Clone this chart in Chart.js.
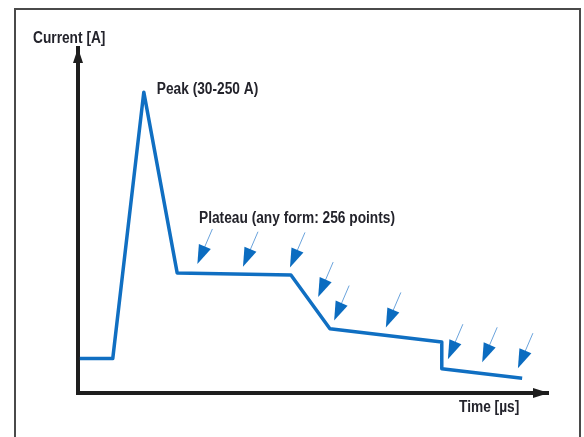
<!DOCTYPE html>
<html>
<head>
<meta charset="utf-8">
<script src="https://cdn.jsdelivr.net/npm/chart.js@4/dist/chart.umd.min.js"></script>
<style>
  html, body { margin: 0; padding: 0; background: #fff; }
  #wrap { position: relative; width: 584px; height: 437px; }
</style>
</head>
<body>
<div id="wrap"><canvas id="pulse" width="584" height="437"></canvas></div>
<script>
// pulse shape (time and current in % of the drawn axes)
const timeValues = [0.4, 7.4, 14.0, 21.1, 45.3, 53.6, 77.4, 77.4, 94.5];
const currentValues = [10, 10, 87.2, 34.8, 34.2, 18.6, 14.8, 7.0, 4.3];

// where the little arrows point on the plateau
const arrowTimes = [25.4, 35.1, 45.1, 51.1, 54.5, 65.5, 78.7, 86.0, 93.6];
const arrowCurrents = [37.4, 36.6, 36.4, 27.8, 21.0, 19.0, 9.8, 8.9, 7.2];

const axisTitles = ['Current [A]', 'Time [\u00b5s]'];
const peakLabel = 'Peak (30-250 A)';
const plateauLabel = 'Plateau (any form: 256 points)';

const blue = '#106fc2';
const ink = '#23232b';
const labelFont = 'bold 16px "Liberation Sans", Arial, sans-serif';

// condensed look: squeeze the text so the plateau label is ~196px wide
function drawLabel(ctx, text, left, base, squeeze) {
    ctx.save();
    ctx.translate(left, base);
    ctx.scale(squeeze, 1);
    ctx.fillText(text, 0, 0);
    ctx.restore();
}

const sketchPlugin = {
    id: 'sketch',
    afterDraw(chart) {
        const ctx = chart.ctx;
        const x = chart.scales.x;
        const y = chart.scales.y;
        const area = chart.chartArea;
        ctx.save();

        // outer frame (open at the bottom)
        ctx.strokeStyle = '#4a4a4a';
        ctx.lineWidth = 2;
        ctx.beginPath();
        ctx.moveTo(15, 437);
        ctx.lineTo(15, 9);
        ctx.lineTo(580, 9);
        ctx.lineTo(580, 437);
        ctx.stroke();

        // axis arrow heads
        const ox = x.getPixelForValue(0);
        const oy = y.getPixelForValue(0);
        ctx.fillStyle = '#1e1e1e';
        ctx.beginPath();
        ctx.moveTo(ox, area.top);
        ctx.lineTo(ox - 5, area.top + 15);
        ctx.lineTo(ox + 5, area.top + 15);
        ctx.closePath();
        ctx.fill();
        ctx.beginPath();
        ctx.moveTo(area.right + 1, oy);
        ctx.lineTo(area.right - 15, oy - 5);
        ctx.lineTo(area.right - 15, oy + 5);
        ctx.closePath();
        ctx.fill();

        // small arrows pointing at the plateau
        arrowTimes.forEach((t, i) => {
            const tx = x.getPixelForValue(t);
            const ty = y.getPixelForValue(arrowCurrents[i]);
            const dx = 15, dy = -35;
            const len = Math.hypot(dx, dy);
            const ux = dx / len, uy = dy / len;
            ctx.strokeStyle = '#6aa3dc';
            ctx.lineWidth = 1;
            ctx.beginPath();
            ctx.moveTo(tx + ux * 14, ty + uy * 14);
            ctx.lineTo(tx + dx, ty + dy);
            ctx.stroke();
            const bx = tx + ux * 19, by = ty + uy * 19;
            ctx.fillStyle = '#0b6cc0';
            ctx.beginPath();
            ctx.moveTo(tx, ty);
            ctx.lineTo(bx - uy * 6.5, by + ux * 6.5);
            ctx.lineTo(bx + uy * 6.5, by - ux * 6.5);
            ctx.closePath();
            ctx.fill();
        });

        // texts
        ctx.fillStyle = ink;
        ctx.font = labelFont;
        ctx.textBaseline = 'alphabetic';
        ctx.textAlign = 'left';
        const squeeze = 196 / ctx.measureText(plateauLabel).width;
        drawLabel(ctx, axisTitles[0], 33, 43, squeeze);
        drawLabel(ctx, axisTitles[1], 459, 412, squeeze);
        const px = x.getPixelForValue(timeValues[2]);
        const py = y.getPixelForValue(currentValues[2]);
        drawLabel(ctx, peakLabel, px + 13, py + 2, squeeze);
        drawLabel(ctx, plateauLabel, 199, 223, squeeze);
        ctx.restore();
    }
};

new Chart(document.getElementById('pulse'), {
    type: 'line',
    data: {
        datasets: [{
            data: timeValues.map((t, i) => ({ x: t, y: currentValues[i] })),
            borderColor: blue,
            borderWidth: 3.5,
            borderJoinStyle: 'round',
            pointRadius: 0,
            tension: 0,
            fill: false
        }]
    },
    options: {
        responsive: false,
        devicePixelRatio: 1,
        animation: false,
        layout: { padding: { left: 78, top: 48, right: 36, bottom: 44 } },
        plugins: {
            legend: { display: false },
            tooltip: { enabled: false }
        },
        scales: {
            x: {
                type: 'linear',
                min: 0,
                max: 100,
                grid: { display: false, drawTicks: false },
                ticks: { display: false },
                border: { display: true, width: 4, color: '#1e1e1e' }
            },
            y: {
                min: 0,
                max: 100,
                grid: { display: false, drawTicks: false },
                ticks: { display: false },
                border: { display: true, width: 4, color: '#1e1e1e' }
            }
        }
    },
    plugins: [sketchPlugin]
});
</script>
</body>
</html>
